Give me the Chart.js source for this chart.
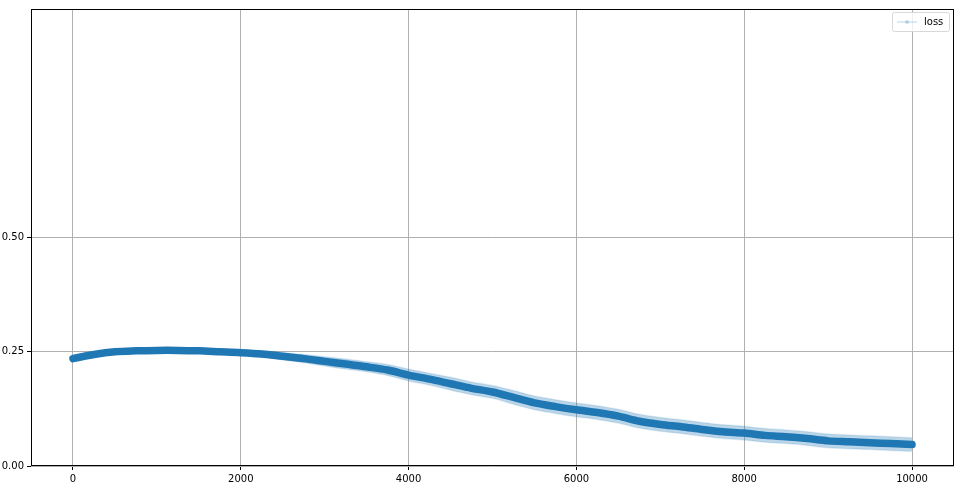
<!DOCTYPE html>
<html>
<head>
<meta charset="utf-8">
<script src="https://cdn.jsdelivr.net/npm/chart.js@4/dist/chart.umd.min.js"></script>
<style>
  html, body { margin: 0; padding: 0; background: #ffffff; }
  #wrap { width: 963px; height: 489px; }
</style>
</head>
<body>
<div id="wrap"><canvas id="c" width="963" height="489"></canvas></div>
<script>
// ---- data ----
const steps = [0,250,500,750,1000,1250,1500,1750,2000,2250,2500,2750,3000,3250,3500,3750,4000,4250,4500,4750,5000,5250,5500,5750,6000,6250,6500,6750,7000,7250,7500,7750,8000,8250,8500,8750,9000,9250,9500,9750,10000];
const loss  = [0.235,0.244,0.250,0.252,0.253,0.253,0.252,0.250,0.248,0.245,0.240,0.235,0.229,0.223,0.217,0.210,0.199,0.190,0.180,0.170,0.162,0.150,0.138,0.130,0.123,0.117,0.109,0.098,0.091,0.086,0.080,0.075,0.072,0.067,0.064,0.060,0.055,0.053,0.051,0.049,0.047];
// half-width of the noisy band around the curve
const spread = [0.003,0.003,0.003,0.003,0.003,0.004,0.004,0.005,0.006,0.007,0.008,0.009,0.010,0.011,0.011,0.012,0.013,0.013,0.014,0.014,0.014,0.015,0.015,0.015,0.015,0.015,0.015,0.015,0.015,0.015,0.015,0.015,0.015,0.015,0.015,0.015,0.015,0.015,0.015,0.015,0.015];
const xTicks = [0,2000,4000,6000,8000,10000];
const yTicks = [0,0.25,0.5];
const seriesName = 'loss';

const blue = 'rgb(31,119,180)';
const pts = (arr) => steps.map((s, i) => ({ x: s, y: arr[i] }));
const upper = pts(loss.map((v, i) => v + spread[i]));
const lower = pts(loss.map((v, i) => v - spread[i]));

const framePlugin = {
  id: 'frame',
  afterDraw(chart) {
    const { ctx, chartArea: a } = chart;
    ctx.save();
    ctx.strokeStyle = '#000';
    ctx.lineWidth = 1;
    ctx.strokeRect(Math.round(a.left) + 0.5, Math.round(a.top) + 0.5,
                   Math.round(a.right - a.left) - 1, Math.round(a.bottom - a.top) - 1);
    // legend box
    const bx = 892.5, by = 12.5, bw = 57, bh = 19;
    ctx.fillStyle = 'rgba(255,255,255,0.8)';
    ctx.strokeStyle = '#d8d8d8';
    ctx.lineWidth = 1;
    ctx.beginPath();
    if (ctx.roundRect) ctx.roundRect(bx, by, bw, bh, 2); else ctx.rect(bx, by, bw, bh);
    ctx.fill();
    ctx.stroke();
    ctx.strokeStyle = 'rgba(31,119,180,0.2)';
    ctx.lineWidth = 1.5;
    ctx.beginPath();
    ctx.moveTo(897, 22); ctx.lineTo(917, 22);
    ctx.stroke();
    ctx.fillStyle = 'rgba(31,119,180,0.25)';
    ctx.beginPath();
    ctx.arc(907, 22, 2, 0, Math.PI * 2);
    ctx.fill();
    ctx.fillStyle = '#000';
    ctx.font = '10px "DejaVu Sans"';
    ctx.textBaseline = 'middle';
    ctx.textAlign = 'left';
    ctx.fillText(seriesName, 924, 22);
    ctx.restore();
  }
};

new Chart(document.getElementById('c'), {
  type: 'line',
  data: {
    datasets: [
      { label: seriesName, data: pts(loss), borderColor: blue, borderWidth: 7.5,
        pointRadius: 0, fill: false, tension: 0.3, order: 0,
        borderCapStyle: 'round', borderJoinStyle: 'round' },
      { label: 'upper', data: upper, borderColor: 'rgba(31,119,180,0.12)', borderWidth: 1.5,
        backgroundColor: 'rgba(31,119,180,0.3)', pointRadius: 0, fill: 2, tension: 0.3, order: 1 },
      { label: 'lower', data: lower, borderColor: 'rgba(31,119,180,0.12)', borderWidth: 1.5,
        pointRadius: 0, fill: false, tension: 0.3, order: 2 }
    ]
  },
  options: {
    responsive: false,
    animation: false,
    devicePixelRatio: 1,
    layout: { padding: { left: 0, right: 9, top: 8, bottom: 0 } },
    plugins: { legend: { display: false }, tooltip: { enabled: false } },
    scales: {
      x: {
        type: 'linear', min: -500, max: 10500,
        afterBuildTicks: (s) => { s.ticks = xTicks.map(v => ({ value: v })); },
        afterFit: (s) => { s.height = 23; },
        ticks: { color: '#000', font: { family: 'DejaVu Sans', size: 10 }, padding: 3,
                 maxRotation: 0, callback: (v) => String(v) },
        grid: { color: '#b0b0b0', lineWidth: 1, tickColor: '#000', tickLength: 4, drawTicks: true },
        border: { display: false }
      },
      y: {
        type: 'linear', min: 0, max: 1,
        afterBuildTicks: (s) => { s.ticks = yTicks.map(v => ({ value: v })); },
        afterFit: (s) => { s.width = 31; },
        ticks: { color: '#000', font: { family: 'DejaVu Sans', size: 10 }, padding: 3,
                 callback: (v) => Number(v).toFixed(2) },
        grid: { color: '#b0b0b0', lineWidth: 1, tickColor: '#000', tickLength: 4, drawTicks: true },
        border: { display: false }
      }
    }
  },
  plugins: [framePlugin]
});
</script>
</body>
</html>
